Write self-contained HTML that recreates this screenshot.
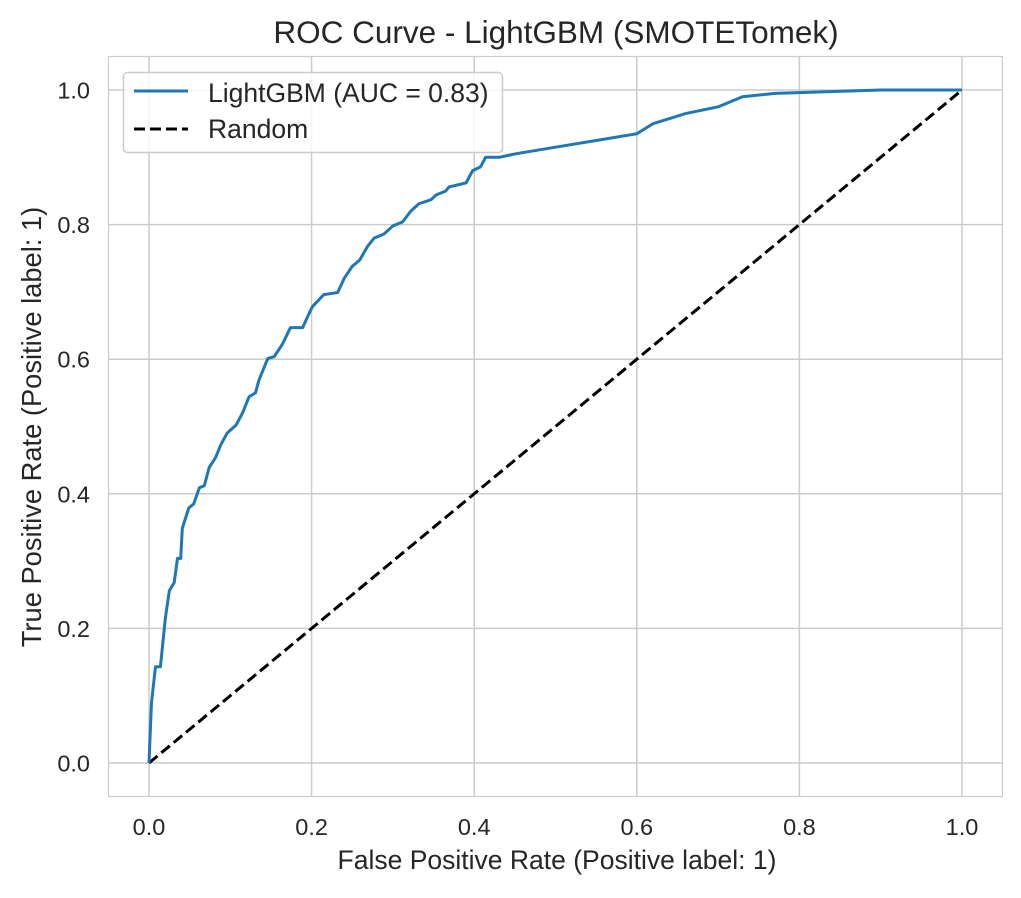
<!DOCTYPE html>
<html><head><meta charset="utf-8"><style>
body{margin:0;background:#fff}
svg text{font-family:"Liberation Sans",Arial,sans-serif;fill:#262626}
</style></head><body>
<svg id="chart" width="1021" height="893">
<text x="556" y="43" font-size="31.5" text-anchor="middle">ROC Curve - LightGBM (SMOTETomek)</text>
<g id="grid"></g><g id="ticks"></g>
<rect x="108.5" y="56.5" width="894" height="740" fill="none" stroke="#ccc" stroke-width="1.2"/>
<g id="series"></g>
<text x="557" y="869" font-size="26.5" text-anchor="middle">False Positive Rate (Positive label: 1)</text>
<text transform="translate(41,427) rotate(-90)" font-size="27.3" text-anchor="middle">True Positive Rate (Positive label: 1)</text>
<g>
<rect x="123.5" y="72.5" width="379" height="80" rx="4" fill="#fff" fill-opacity="0.8" stroke="#ccc" stroke-width="1.5"/>
<line x1="134" y1="91" x2="188" y2="91" stroke="#1f77b4" stroke-width="3"/>
<text x="208" y="102" font-size="26.5">LightGBM (AUC = 0.83)</text>
<line x1="134" y1="129" x2="188" y2="129" stroke="#000" stroke-width="3" stroke-dasharray="11,5"/>
<text x="208" y="138" font-size="26.5">Random</text>
</g>
</svg>
<script>
const fpr=[0,0.003,0.008,0.014,0.016,0.02,0.025,0.031,0.035,0.039,0.041,0.049,0.055,0.062,0.068,0.074,0.082,0.088,0.096,0.107,0.115,0.123,0.131,0.135,0.146,0.154,0.164,0.174,0.189,0.195,0.201,0.215,0.232,0.24,0.25,0.259,0.269,0.277,0.289,0.3,0.312,0.322,0.332,0.347,0.353,0.365,0.369,0.39,0.398,0.408,0.414,0.431,0.45,0.5,0.55,0.6,0.62,0.66,0.7,0.73,0.77,0.9,1];
const tpr=[0,0.089,0.143,0.143,0.166,0.214,0.256,0.268,0.304,0.304,0.349,0.379,0.385,0.409,0.412,0.439,0.454,0.472,0.49,0.502,0.52,0.544,0.55,0.568,0.601,0.604,0.622,0.647,0.647,0.663,0.678,0.696,0.699,0.72,0.738,0.747,0.768,0.78,0.786,0.798,0.804,0.82,0.831,0.837,0.844,0.85,0.856,0.862,0.88,0.886,0.9,0.9,0.905,0.915,0.925,0.935,0.95,0.965,0.975,0.99,0.995,1,1];
const xTicks=[0,0.2,0.4,0.6,0.8,1.0];
const yTicks=[0,0.2,0.4,0.6,0.8,1.0];
const X=v=>149+v*813, Y=v=>763-v*673;
const NS="http://www.w3.org/2000/svg";
const grid=document.getElementById('grid'),ticks=document.getElementById('ticks'),series=document.getElementById('series');
function mk(tag,attrs,parent){const e=document.createElementNS(NS,tag);for(const k in attrs)e.setAttribute(k,attrs[k]);parent.appendChild(e);return e;}
xTicks.forEach(t=>{
 const l=mk('line',{x1:X(t),x2:X(t),y1:56.5,y2:796.5,stroke:'#ccc','stroke-width':1.5},grid);
 
 
 const tx=mk('text',{x:X(t),y:835,'font-size':23.5,'text-anchor':'middle'},ticks);tx.textContent=t.toFixed(1);
 
 
});
yTicks.forEach(t=>{
 const l=mk('line',{x1:108.5,x2:1002.5,y1:Y(t),y2:Y(t),stroke:'#ccc','stroke-width':1.5},grid);
 
 
 const tx=mk('text',{x:90,y:Y(t)+8.5,'font-size':23.5,'text-anchor':'end'},ticks);tx.textContent=t.toFixed(1);
 
 
});
const rl=mk('line',{x1:X(0),y1:Y(0),x2:X(1),y2:Y(1),stroke:'#000','stroke-width':3,'stroke-dasharray':'11,5'},series);


const pl=mk('polyline',{points:fpr.map((f,i)=>X(f)+','+Y(tpr[i])).join(' '),fill:'none',stroke:'#1f77b4','stroke-width':3,'stroke-linejoin':'round'},series);


</script>
</body></html>
